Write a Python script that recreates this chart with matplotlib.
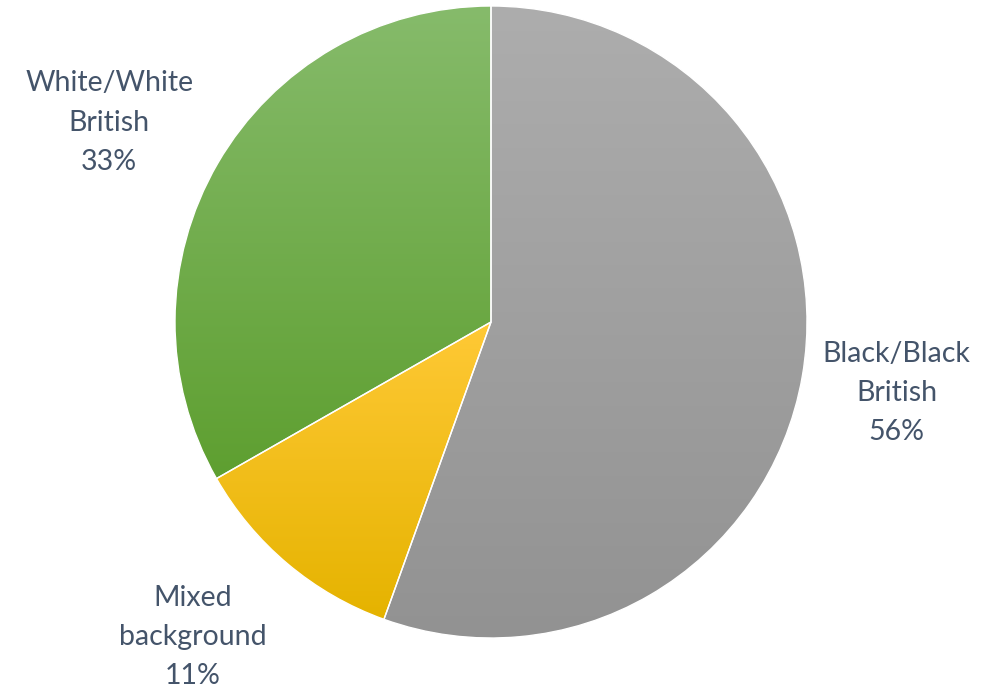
import numpy as np
import matplotlib
matplotlib.use("Agg")
import matplotlib.pyplot as plt
from matplotlib.colors import LinearSegmentedColormap

categories = ["Black/Black\nBritish", "Mixed\nbackground", "White/White\nBritish"]
values = [55.5, 11.25, 33.25]
pct_labels = ["56%", "11%", "33%"]
top_colors = ["#adadad", "#ffc936", "#86bb6b"]
bottom_colors = ["#929292", "#e5b300", "#5e9f30"]

W, H = 994, 691
cx, cy, R = 491, 322, 316

fig = plt.figure(figsize=(W / 100, H / 100), dpi=100)
ax = fig.add_axes([0, 0, 1, 1])

wedges, texts = ax.pie(values, startangle=90, counterclock=False, radius=R,
                       labels=None, wedgeprops=dict(linewidth=1, edgecolor="white"))

for w, tc, bc in zip(wedges, top_colors, bottom_colors):
    w.set_facecolor("none")
    w.set_zorder(2)
    verts = w.get_path().vertices
    ymin, ymax = verts[:, 1].min(), verts[:, 1].max()
    cmap = LinearSegmentedColormap.from_list("g", [bc, tc])
    grad = np.linspace(0, 1, 256).reshape(-1, 1)
    im = ax.imshow(grad, cmap=cmap, origin="lower", aspect="auto",
                   extent=[-R, R, ymin, ymax], zorder=1, interpolation="bilinear")
    im.set_clip_path(w)

total = sum(values)
label_r = [1.303, 1.373, 1.364]
offsets = [(0, 0), (-19, 17), (-9, -17)]
ang = 90.0
for v, lab, pl, lr, off in zip(values, categories, pct_labels, label_r, offsets):
    span = 360.0 * v / total
    mid = np.deg2rad(ang - span / 2)
    ang -= span
    x = R * lr * np.cos(mid) + off[0]
    y = R * lr * np.sin(mid) + off[1]
    ax.text(x, y, f"{lab}\n{pl}", ha="center", va="center", fontsize=20.5,
            family="Lato", color="#44546a", linespacing=1.62)

ax.set_xlim(-cx, W - cx)
ax.set_ylim(-(H - cy), cy)
ax.set_aspect("equal")
ax.axis("off")

fig.savefig("out.png", dpi=100)
